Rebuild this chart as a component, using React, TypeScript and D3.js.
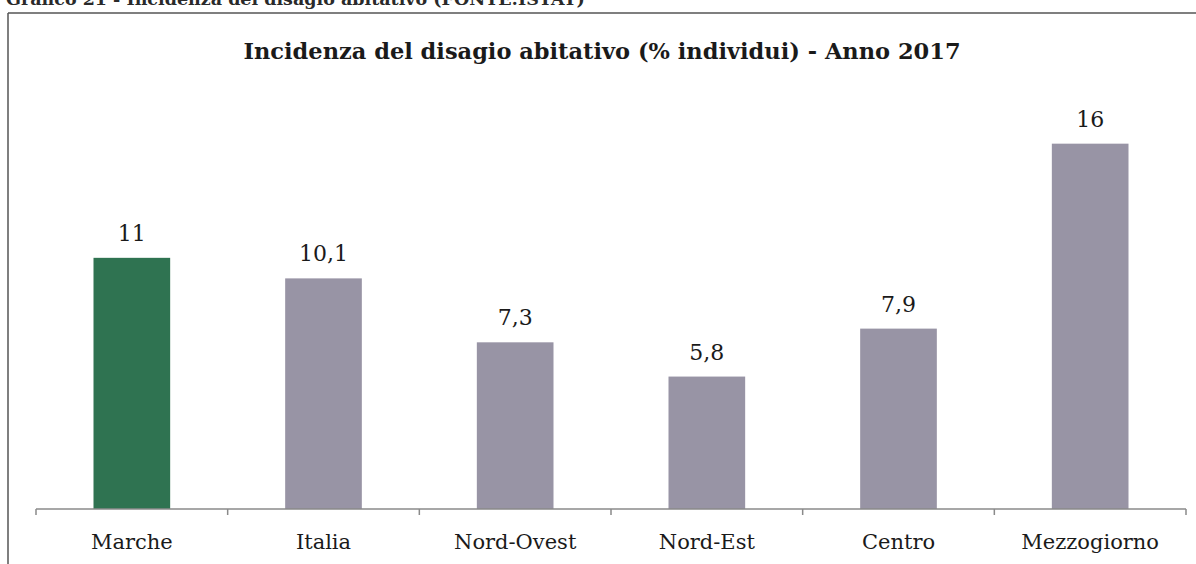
import React from "react";
import * as d3 from "d3";

const categories = ["Marche", "Italia", "Nord-Ovest", "Nord-Est", "Centro", "Mezzogiorno"];
const values = [11, 10.1, 7.3, 5.8, 7.9, 16];
const valueLabels = ["11", "10,1", "7,3", "5,8", "7,9", "16"];
const highlight = ["Marche"];

const W = 1196;
const H = 564;
const FONT = "'DejaVu Serif', serif";

export default function App() {
  const x = d3
    .scaleBand<string>()
    .domain(categories)
    .range([36, 1186])
    .paddingInner(0.6)
    .paddingOuter(0.3);
  const y = d3.scaleLinear().domain([0, 18]).range([509, 98]);
  const step = x.step();
  const ticks = d3.range(categories.length + 1).map((i) => 36 + i * step);

  return (
    <svg
      width={W}
      height={H}
      style={{ position: "absolute", left: 0, top: 0, background: "#fff" }}
      fontFamily={FONT}
    >
      <rect x={0} y={0} width={W} height={H} fill="#ffffff" />
      <text x={6} y={5} fontSize={17.5} fontWeight="bold" fill="#2a2a2a">
        Grafico 21 - Incidenza del disagio abitativo (FONTE:ISTAT)
      </text>
      <line x1={8} y1={13} x2={W} y2={13} stroke="#555" strokeWidth={1.5} />
      <line x1={8} y1={13} x2={8} y2={H} stroke="#555" strokeWidth={1.5} />
      <text x={602} y={59} textAnchor="middle" fontSize={22.5} fontWeight="bold" fill="#1a1a1a">
        Incidenza del disagio abitativo (% individui) - Anno 2017
      </text>
      {categories.map((c, i) => (
        <g key={c}>
          <rect
            x={x(c)}
            y={y(values[i])}
            width={x.bandwidth()}
            height={y(0) - y(values[i])}
            fill={highlight.includes(c) ? "#2f7351" : "#9894a5"}
          />
          <text
            x={(x(c) as number) + x.bandwidth() / 2}
            y={y(values[i]) - 17}
            textAnchor="middle"
            fontSize={22}
            fill="#1a1a1a"
          >
            {valueLabels[i]}
          </text>
          <text
            x={(x(c) as number) + x.bandwidth() / 2}
            y={549}
            textAnchor="middle"
            fontSize={21}
            fill="#1a1a1a"
          >
            {c}
          </text>
        </g>
      ))}
      <line x1={36} y1={y(0)} x2={1186} y2={y(0)} stroke="#8a8a8a" strokeWidth={1.5} />
      {ticks.map((t, i) => (
        <line key={i} x1={t} y1={y(0)} x2={t} y2={y(0) + 6} stroke="#8a8a8a" strokeWidth={1.5} />
      ))}
    </svg>
  );
}
